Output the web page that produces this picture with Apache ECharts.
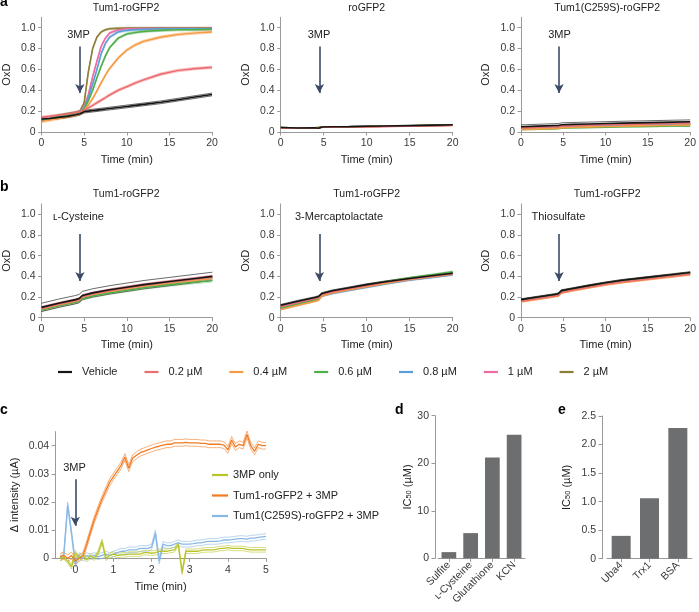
<!DOCTYPE html>
<html><head><meta charset="utf-8">
<script src="https://cdn.jsdelivr.net/npm/echarts@6/dist/echarts.min.js"></script>
<style>html,body{margin:0;padding:0;background:#fff}#c{width:699px;height:612px}</style>
</head><body><div id="c"></div>
<script>
// ---------- DATA ----------
const conditions = ['Vehicle','0.2 µM','0.4 µM','0.6 µM','0.8 µM','1 µM','2 µM'];
const condColors = ['#151515','#ec6d70','#f59a45','#4faf49','#5a9fd9','#ec6aa2','#8b7e36'];

const tA = [0,1,2,3,4,4.5,5,5.5,6,6.5,7,7.5,8,9,10,11,12,14,16,18,20];
const tB = [0,2,4,4.4,4.8,6,8,10,12,15,18,20];

// panel a, Tum1-roGFP2 (time tA)
const aTum_vehicle = [0.125,0.13,0.14,0.15,0.165,0.175,0.195,0.2,0.205,0.21,0.215,0.22,0.225,0.235,0.245,0.255,0.265,0.285,0.31,0.335,0.36];
const aTum_02 = [0.14,0.15,0.16,0.17,0.185,0.195,0.21,0.23,0.255,0.28,0.305,0.33,0.355,0.40,0.435,0.47,0.50,0.555,0.59,0.608,0.62];
const aTum_04 = [0.10,0.115,0.13,0.145,0.16,0.175,0.21,0.26,0.32,0.395,0.47,0.545,0.61,0.71,0.785,0.835,0.87,0.91,0.935,0.95,0.96];
const aTum_06 = [0.12,0.13,0.145,0.16,0.175,0.19,0.22,0.30,0.40,0.52,0.63,0.73,0.81,0.90,0.94,0.955,0.965,0.975,0.98,0.982,0.985];
const aTum_08 = [0.125,0.135,0.15,0.165,0.18,0.195,0.23,0.33,0.46,0.60,0.75,0.85,0.91,0.96,0.975,0.982,0.985,0.99,0.99,0.99,0.99];
const aTum_1 = [0.13,0.14,0.155,0.17,0.185,0.20,0.24,0.36,0.53,0.68,0.82,0.90,0.95,0.98,0.99,0.99,0.992,0.993,0.993,0.993,0.993];
const aTum_2 = [0.135,0.145,0.16,0.175,0.19,0.20,0.28,0.58,0.80,0.91,0.96,0.98,0.99,0.995,0.997,0.997,0.997,0.997,0.997,0.997,0.997];
const aTum_sd = [0.013,0.012,0.012,0.01,0.01,0.01,0.008];

// panel a, roGFP2 (time tB)
const aRo_vehicle = [0.043,0.039,0.041,0.036,0.048,0.05,0.052,0.055,0.057,0.061,0.066,0.069];
const aRo_02 = [0.04,0.037,0.039,0.04,0.045,0.047,0.049,0.051,0.053,0.056,0.06,0.063];
const aRo_04 = [0.041,0.038,0.04,0.041,0.046,0.048,0.05,0.052,0.055,0.058,0.062,0.065];
const aRo_06 = [0.042,0.038,0.04,0.046,0.047,0.049,0.051,0.053,0.056,0.059,0.063,0.066];
const aRo_08 = [0.041,0.038,0.04,0.041,0.046,0.048,0.05,0.053,0.055,0.058,0.063,0.066];
const aRo_1 = [0.04,0.037,0.039,0.04,0.045,0.047,0.05,0.052,0.054,0.058,0.062,0.065];
const aRo_2 = [0.042,0.038,0.04,0.041,0.046,0.049,0.051,0.053,0.056,0.06,0.064,0.067];
const aRo_sd = [0.002,0.002,0.002,0.002,0.002,0.002,0.002];

// panel a, Tum1(C259S)-roGFP2 (time tB)
const aMut_vehicle = [0.05,0.056,0.062,0.063,0.07,0.073,0.077,0.081,0.085,0.09,0.095,0.098];
const aMut_02 = [0.04,0.045,0.05,0.051,0.058,0.061,0.065,0.069,0.073,0.078,0.083,0.086];
const aMut_04 = [0.025,0.03,0.035,0.036,0.042,0.045,0.049,0.053,0.056,0.061,0.065,0.068];
const aMut_06 = [0.025,0.028,0.032,0.033,0.038,0.041,0.044,0.047,0.05,0.054,0.057,0.059];
const aMut_08 = [0.035,0.04,0.045,0.046,0.052,0.055,0.059,0.062,0.066,0.07,0.075,0.078];
const aMut_1 = [0.038,0.043,0.048,0.049,0.055,0.058,0.062,0.066,0.07,0.075,0.079,0.082];
const aMut_2 = [0.032,0.037,0.042,0.043,0.049,0.052,0.056,0.06,0.063,0.068,0.072,0.075];
const aMut_sd = [0.018,0.008,0.006,0.005,0.006,0.006,0.006];

// panel b, L-cysteine (time tB)
const bCys_vehicle = [0.10,0.14,0.175,0.185,0.215,0.24,0.27,0.295,0.32,0.35,0.38,0.40];
const bCys_02 = [0.09,0.13,0.165,0.175,0.205,0.23,0.26,0.29,0.315,0.345,0.375,0.395];
const bCys_04 = [0.085,0.125,0.16,0.17,0.2,0.225,0.255,0.28,0.305,0.335,0.36,0.38];
const bCys_06 = [0.075,0.115,0.15,0.16,0.185,0.21,0.24,0.265,0.29,0.32,0.345,0.36];
const bCys_08 = [0.085,0.125,0.16,0.17,0.2,0.225,0.255,0.28,0.305,0.335,0.36,0.38];
const bCys_1 = [0.095,0.135,0.17,0.18,0.21,0.235,0.265,0.29,0.315,0.345,0.375,0.395];
const bCys_2 = [0.09,0.13,0.165,0.175,0.205,0.23,0.26,0.29,0.31,0.34,0.37,0.39];
const bCys_sd = [0.04,0.015,0.015,0.015,0.015,0.015,0.015];

// panel b, 3-mercaptolactate (time tB)
const bMer_vehicle = [0.12,0.16,0.195,0.205,0.235,0.26,0.29,0.32,0.345,0.38,0.41,0.43];
const bMer_02 = [0.11,0.15,0.185,0.195,0.225,0.25,0.28,0.31,0.34,0.375,0.405,0.425];
const bMer_04 = [0.08,0.12,0.16,0.17,0.21,0.24,0.27,0.30,0.33,0.37,0.40,0.42];
const bMer_06 = [0.09,0.13,0.17,0.18,0.215,0.245,0.28,0.315,0.345,0.385,0.42,0.445];
const bMer_08 = [0.085,0.125,0.165,0.175,0.21,0.235,0.265,0.295,0.325,0.365,0.395,0.415];
const bMer_1 = [0.1,0.14,0.18,0.19,0.22,0.245,0.275,0.305,0.335,0.37,0.40,0.42];
const bMer_2 = [0.095,0.135,0.175,0.185,0.22,0.245,0.275,0.31,0.34,0.375,0.405,0.43];
const bMer_sd = [0.008,0.008,0.008,0.008,0.008,0.008,0.008];

// panel b, thiosulfate (time tB)
const bThi_vehicle = [0.175,0.2,0.225,0.232,0.262,0.28,0.31,0.338,0.362,0.39,0.418,0.437];
const bThi_02 = [0.16,0.185,0.21,0.215,0.245,0.265,0.295,0.323,0.347,0.375,0.403,0.422];
const bThi_04 = [0.155,0.18,0.205,0.21,0.24,0.26,0.29,0.318,0.342,0.37,0.398,0.417];
const bThi_06 = [0.17,0.195,0.22,0.227,0.257,0.275,0.305,0.333,0.357,0.385,0.413,0.432];
const bThi_08 = [0.165,0.19,0.215,0.222,0.252,0.27,0.3,0.328,0.352,0.38,0.408,0.427];
const bThi_1 = [0.168,0.193,0.218,0.225,0.255,0.273,0.303,0.331,0.355,0.383,0.411,0.43];
const bThi_2 = [0.172,0.197,0.222,0.229,0.259,0.277,0.307,0.335,0.359,0.387,0.415,0.434];
const bThi_sd = [0.008,0.008,0.008,0.008,0.008,0.008,0.008];

const oxdTicks = [0,0.2,0.4,0.6,0.8,1.0];
const timeTicksC = [0,1,2,3,4,5];
const intensityTicks = [0,0.01,0.02,0.03,0.04];

// panel c (time in min)
const tC = [-0.4,-0.3,-0.2,-0.1,0,0.1,0.2,0.3,0.4,0.5,0.6,0.7,0.8,0.9,1,1.1,1.2,1.3,1.4,1.5,1.6,1.7,1.8,1.9,2,2.1,2.2,2.3,2.4,2.5,2.6,2.7,2.8,2.9,3,3.1,3.2,3.3,3.4,3.5,3.6,3.7,3.8,3.9,4,4.1,4.2,4.3,4.4,4.5,4.6,4.7,4.8,4.9,5];
const cSeriesNames = ['3MP only','Tum1-roGFP2 + 3MP','Tum1(C259S)-roGFP2 + 3MP'];
const cColors = ['#b9c42b','#f27b22','#88b9e6'];
const c3mpOnly = [0,0.0005,-0.001,-0.003,0.002,0,0.001,-0.0005,0.001,0,0.002,0.006,0,0.001,0.0015,0.001,0.0012,0.0012,0.0015,0.0015,0.0015,0.0015,0.002,0.002,0.0018,0.002,0.0025,0.0025,0.0025,0.0028,0.003,0.005,-0.005,0.0025,0.0025,0.0025,0.0025,0.0028,0.003,0.003,0.003,0.0032,0.0035,0.0035,0.0038,0.0035,0.0035,0.0035,0.0035,0.0032,0.003,0.003,0.003,0.003,0.003];
const cTum = [0.0005,0.001,0,0.001,-0.001,0,0.001,0.005,0.0095,0.0138,0.0175,0.021,0.024,0.027,0.029,0.031,0.033,0.036,0.032,0.0355,0.0365,0.0375,0.038,0.0385,0.039,0.0395,0.0398,0.0402,0.0405,0.0405,0.041,0.041,0.041,0.0412,0.041,0.041,0.041,0.0408,0.0408,0.0405,0.0405,0.0405,0.0405,0.0402,0.0385,0.042,0.0395,0.0405,0.04,0.044,0.04,0.038,0.0405,0.04,0.04];
const cMut = [0,0.0015,0.019,0.009,-0.002,0.001,0,0.001,0.0005,0.001,0.0005,0.001,0.0015,0.001,0.0015,0.002,0.0025,0.0025,0.003,0.003,0.003,0.0035,0.0035,0.0035,0.004,0.009,-0.001,0.005,0.0045,0.0045,0.005,0.0055,0.005,0.005,0.005,0.0052,0.0055,0.0055,0.0058,0.006,0.006,0.006,0.0062,0.0065,0.0065,0.0066,0.0068,0.007,0.007,0.0068,0.0072,0.0072,0.0074,0.0076,0.0078];
const cSd = [0.0008,0.0012,0.001];

// panel d / e
const dCategories = ['Sulfite','ʟ-Cysteine','Glutathione','KCN'];
const dValues = [1.3,5.3,21.2,26.0];
const eCategories = ['Uba4','Trx1','BSA'];
const eValues = [0.40,1.06,2.29];

// arrows [x, yStart, yEnd]
const arrowA = [4.5,0.82,0.375];
const arrowB = [4.5,0.81,0.355];
const arrowC = [0,0.0281,0.0116];

// ---------- CHART ----------
const FONT = '"Liberation Sans", Arial, Helvetica, sans-serif';
const AX = '#9a9a9a', TX = '#3a3a3a', ARW = '#3b4a66';
const chart = echarts.init(document.getElementById('c'), null, {renderer:'canvas'});

const linePanels = [
  {t:tA, data:[aTum_vehicle,aTum_02,aTum_04,aTum_06,aTum_08,aTum_1,aTum_2], sd:aTum_sd, arrow:arrowA, grid:{left:40,top:17.3,width:172,height:114.7}},
  {t:tB, data:[aRo_vehicle,aRo_02,aRo_04,aRo_06,aRo_08,aRo_1,aRo_2], sd:aRo_sd, arrow:arrowA, grid:{left:280.7,top:17.3,width:172,height:114.7}},
  {t:tB, data:[aMut_vehicle,aMut_02,aMut_04,aMut_06,aMut_08,aMut_1,aMut_2], sd:aMut_sd, arrow:arrowA, grid:{left:521,top:17.3,width:172.3,height:114.7}},
  {t:tB, data:[bCys_vehicle,bCys_02,bCys_04,bCys_06,bCys_08,bCys_1,bCys_2], sd:bCys_sd, arrow:arrowB, grid:{left:40,top:204,width:172.3,height:113.7}},
  {t:tB, data:[bMer_vehicle,bMer_02,bMer_04,bMer_06,bMer_08,bMer_1,bMer_2], sd:bMer_sd, arrow:arrowB, grid:{left:280.7,top:204,width:172,height:113.7}},
  {t:tB, data:[bThi_vehicle,bThi_02,bThi_04,bThi_06,bThi_08,bThi_1,bThi_2], sd:bThi_sd, arrow:arrowB, grid:{left:521,top:204,width:172.3,height:113.7}}
];

const grids = [], xAxes = [], yAxes = [], series = [];
const lbl = {color:TX, fontSize:10.5, fontFamily:FONT};
const nameStyle = {color:'#222', fontSize:11, fontFamily:FONT};
const axLine = {show:true, onZero:false, lineStyle:{color:AX, width:1}};
const axTick = {show:true, length:3.5, lineStyle:{color:AX, width:1}};

function markArrow(a){
  return {silent:true, animation:false, symbol:['none','arrow'], symbolSize:[7,9],
    label:{show:false}, lineStyle:{color:ARW, width:1.6, type:'solid'},
    emphasis:{disabled:true},
    data:[[{coord:[a[0],a[1]]},{coord:[a[0],a[2]]}]]};
}

linePanels.forEach((p, i) => {
  grids.push(p.grid);
  xAxes.push({gridIndex:i, type:'value', min:0, max:20, interval:5,
    axisLine:axLine, axisTick:axTick, splitLine:{show:false},
    axisLabel:Object.assign({margin:6}, lbl),
    name:'Time (min)', nameLocation:'middle', nameGap:22, nameTextStyle:nameStyle});
  yAxes.push({gridIndex:i, type:'value', min:0, max:1.1,
    axisLine:axLine, axisTick:Object.assign({customValues:oxdTicks}, axTick), splitLine:{show:false},
    axisLabel:Object.assign({margin:6, customValues:oxdTicks, formatter:v => v===0 ? '0' : v.toFixed(1)}, lbl),
    name:'OxD', nameLocation:'middle', nameGap:29.5, nameTextStyle:nameStyle});
  const order = [6,5,4,3,2,1,0];
  order.forEach(ci => {
    [1,-1].forEach(s => {
      series.push({type:'line', xAxisIndex:i, yAxisIndex:i, symbol:'none', silent:true, animation:false,
        lineStyle:{color:condColors[ci], width:0.8, opacity:ci===0?0.8:0.5},
        data:p.t.map((x,k) => [x, p.data[ci][k] + s*p.sd[ci]])});
    });
  });
  order.forEach(ci => {
    const s = {type:'line', name:conditions[ci], xAxisIndex:i, yAxisIndex:i, symbol:'none', animation:false,
      lineStyle:{color:condColors[ci], width:1.6}, itemStyle:{color:condColors[ci]},
      data:p.t.map((x,k) => [x, p.data[ci][k]])};
    if (ci === 0) s.markLine = markArrow(p.arrow);
    series.push(s);
  });
});

// panel c
grids.push({left:55.1, top:431.6, width:210.9, height:126.7});
xAxes.push({gridIndex:6, type:'value', min:-0.53, max:5,
  axisLine:axLine, axisTick:Object.assign({customValues:timeTicksC}, axTick), splitLine:{show:false},
  axisLabel:Object.assign({margin:6, customValues:timeTicksC}, lbl),
  name:'Time (min)', nameLocation:'middle', nameGap:23, nameTextStyle:nameStyle});
yAxes.push({gridIndex:6, type:'value', min:0, max:0.045,
  axisLine:axLine, axisTick:Object.assign({customValues:intensityTicks}, axTick), splitLine:{show:false},
  axisLabel:Object.assign({margin:6, customValues:intensityTicks, formatter:v => v===0 ? '0' : v.toFixed(2)}, lbl),
  name:'Δ intensity (µA)', nameLocation:'middle', nameGap:35, nameTextStyle:nameStyle});
const cData = [c3mpOnly, cTum, cMut];
[2,1,0].forEach(ci => {
  [1,-1].forEach(s => {
    series.push({type:'line', xAxisIndex:6, yAxisIndex:6, symbol:'none', silent:true, animation:false, clip:false,
      lineStyle:{color:cColors[ci], width:0.8, opacity:0.75},
      data:tC.map((x,k) => [x, cData[ci][k] + s*cSd[ci]])});
  });
});
[2,0,1].forEach(ci => {
  const s = {type:'line', name:cSeriesNames[ci], xAxisIndex:6, yAxisIndex:6, symbol:'none', animation:false, clip:false,
    lineStyle:{color:cColors[ci], width:1.3}, itemStyle:{color:cColors[ci]},
    data:tC.map((x,k) => [x, cData[ci][k]])};
  if (ci === 1) s.markLine = markArrow(arrowC);
  series.push(s);
});

// panel d
const barColor = '#6d6e70';
const icName = {color:'#222', fontFamily:FONT, rich:{a:{fontSize:11, fontFamily:FONT, color:'#222', lineHeight:14, verticalAlign:'bottom'}, s:{fontSize:7.5, fontFamily:FONT, color:'#222', lineHeight:11, verticalAlign:'bottom'}}};
grids.push({left:438, top:415.7, width:87, height:142.6});
xAxes.push({gridIndex:7, type:'category', data:dCategories,
  axisLine:{show:true, lineStyle:{color:AX}}, axisTick:{show:true, alignWithLabel:true, length:3.5, lineStyle:{color:AX}},
  axisLabel:Object.assign({rotate:45, interval:0, margin:5}, lbl)});
yAxes.push({gridIndex:7, type:'value', min:0, max:30, interval:10, offset:3,
  axisLine:axLine, axisTick:axTick, splitLine:{show:false},
  axisLabel:Object.assign({margin:6}, lbl),
  name:'{a|IC}{s|50}{a| (µM)}', nameLocation:'middle', nameGap:21, nameTextStyle:icName});
series.push({type:'bar', xAxisIndex:7, yAxisIndex:7, data:dValues, barWidth:14.7, itemStyle:{color:barColor}, animation:false, silent:true});

// panel e
grids.push({left:607, top:416, width:85, height:142.7});
xAxes.push({gridIndex:8, type:'category', data:eCategories,
  axisLine:{show:true, lineStyle:{color:AX}}, axisTick:{show:true, alignWithLabel:true, length:3.5, lineStyle:{color:AX}},
  axisLabel:Object.assign({rotate:45, interval:0, margin:5}, lbl)});
yAxes.push({gridIndex:8, type:'value', min:0, max:2.5, interval:0.5, offset:5,
  axisLine:axLine, axisTick:axTick, splitLine:{show:false},
  axisLabel:Object.assign({margin:6, formatter:v => v===0 ? '0' : v.toFixed(1)}, lbl),
  name:'{a|IC}{s|50}{a| (µM)}', nameLocation:'middle', nameGap:30, nameTextStyle:icName});
series.push({type:'bar', xAxisIndex:8, yAxisIndex:8, data:eValues, barWidth:19, itemStyle:{color:barColor}, animation:false, silent:true});

// texts
function txt(text, x, y, opts){
  return Object.assign({type:'text', x:x, y:y, silent:true,
    style:Object.assign({text:text, fill:'#222', fontSize:11, fontFamily:FONT, align:'center', verticalAlign:'middle', textAlign:'center', textVerticalAlign:'middle'}, opts||{})});
}
const titles = ['Tum1-roGFP2','roGFP2','Tum1(C259S)-roGFP2','Tum1-roGFP2','Tum1-roGFP2','Tum1-roGFP2'];
const graphic = [];
linePanels.forEach((p,i) => {
  graphic.push(txt(titles[i], p.grid.left + p.grid.width/2, i < 3 ? 8 : 194.5, {fontSize:10.5}));
});
graphic.push(txt('3MP', 78.5, 35), txt('3MP', 319, 35), txt('3MP', 559.5, 35));
graphic.push(txt('ʟ-Cysteine', 53, 216.5, {align:'left', textAlign:'left'}));
graphic.push(txt('3-Mercaptolactate', 295, 216.5, {align:'left', textAlign:'left'}));
graphic.push(txt('Thiosulfate', 531.5, 216.5, {align:'left', textAlign:'left'}));
graphic.push(txt('3MP', 74.5, 468));
const letterStyle = {fontSize:14, fontWeight:'bold', fill:'#000', align:'left', textAlign:'left'};
graphic.push(txt('a', 0, 2.5, letterStyle), txt('b', 0, 187.5, letterStyle), txt('c', 0, 410.5, letterStyle),
  txt('d', 395, 410.5, letterStyle), txt('e', 558, 410.5, letterStyle));

chart.setOption({
  backgroundColor:'#fff',
  animation:false,
  textStyle:{fontFamily:FONT},
  grid:grids, xAxis:xAxes, yAxis:yAxes, series:series,
  legend:[
    {data:conditions, left:58, top:366.5, orient:'horizontal', icon:'rect', itemWidth:14, itemHeight:2.2, itemGap:27, padding:0,
     selectedMode:false, textStyle:{color:'#222', fontSize:11, fontFamily:FONT, padding:[0,0,0,5]}},
    {data:cSeriesNames, left:212, top:469.5, orient:'vertical', icon:'rect', itemWidth:16, itemHeight:2.2, itemGap:9.5, padding:0,
     selectedMode:false, textStyle:{color:'#222', fontSize:11, fontFamily:FONT}}
  ],
  graphic:graphic
});
</script></body></html>
